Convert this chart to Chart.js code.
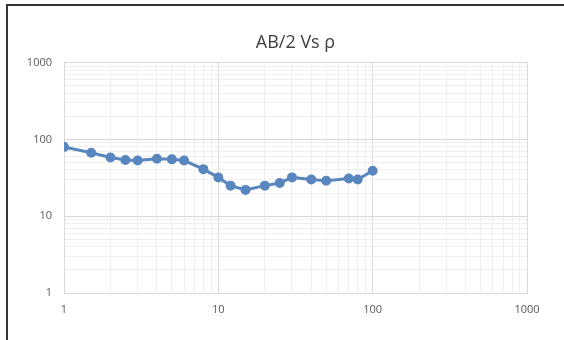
<!DOCTYPE html>
<html>
<head>
<meta charset="utf-8">
<script src="https://cdn.jsdelivr.net/npm/chart.js@4/dist/chart.umd.min.js"></script>
<style>
  html, body { margin: 0; padding: 0; background: #fff; }
  #wrap { position: absolute; left: 0; top: 0; width: 564px; height: 340px; }
  #frame { position: absolute; left: 6px; top: 4px; width: 560px; height: 340px;
           border-left: 2px solid #333; border-top: 2px solid #333; }
</style>
</head>
<body>
<div id="wrap"><canvas id="grafico" width="564" height="340"></canvas></div>
<div id="frame"></div>
<script>
// AB/2 (m) and apparent resistivity
const ab2 = [1, 1.5, 2, 2.5, 3, 4, 5, 6, 8, 10, 12, 15, 20, 25, 30, 40, 50, 70, 80, 100];
const rho = [80, 67, 58, 54, 53, 56, 55, 53, 41, 32, 25, 22, 25, 27, 32, 30, 29, 31, 30, 39];
const decadeLabels = [1, 10, 100, 1000];

// every 1..9 x 10^n tick, so minor grid lines show up
function logTicks(scale) {
  let t = [];
  for (let d = 1; d < 1000; d *= 10) {
    for (let m = 1; m < 10; m++) t.push({ value: m * d });
  }
  t.push({ value: 1000 });
  scale.ticks = t;
}

function isMajor(v) {
  return decadeLabels.indexOf(v) >= 0;
}

function gridColor(ctx) {
  if (!ctx.tick) return '#e6e6e6';
  return isMajor(ctx.tick.value) ? '#d9d9d9' : '#efefef';
}

// center the title over the plot area, like Excel does
const centerTitle = {
  id: 'centerTitle',
  afterLayout(chart) {
    if (chart.titleBlock) {
      chart.titleBlock.left = chart.chartArea.left;
      chart.titleBlock.right = chart.chartArea.right;
    }
  }
};

let ctx = document.getElementById('grafico').getContext('2d');
new Chart(ctx, {
  type: 'line',
  data: {
    datasets: [{
      label: 'rho',
      data: ab2.map((x, i) => ({ x: x, y: rho[i] })),
      borderColor: '#5a86bf',
      backgroundColor: '#5a86bf',
      borderWidth: 3,
      pointRadius: 3.5,
      pointHoverRadius: 3.5,
      fill: false,
      tension: 0
    }]
  },
  plugins: [centerTitle],
  options: {
    responsive: false,
    animation: false,
    layout: { padding: { left: 0, right: 37, top: 32, bottom: 0 } },
    plugins: {
      legend: { display: false },
      tooltip: { enabled: false },
      title: {
        display: true,
        text: 'AB/2 Vs \u03c1',
        color: '#404040',
        font: { family: 'Open Sans', size: 18, weight: 'normal', lineHeight: 1.2 },
        padding: { top: 0, bottom: 9 }
      }
    },
    scales: {
      x: {
        type: 'logarithmic',
        min: 1,
        max: 1000,
        afterBuildTicks: logTicks,
        afterFit: s => { s.height = 47; },
        grid: { color: gridColor, drawTicks: false },
        border: { color: '#d9d9d9' },
        ticks: {
          autoSkip: false,
          maxRotation: 0,
          padding: 10,
          color: '#595959',
          font: { family: 'Open Sans', size: 11 },
          callback: v => isMajor(v) ? String(v) : ''
        }
      },
      y: {
        type: 'logarithmic',
        min: 1,
        max: 1000,
        afterBuildTicks: logTicks,
        afterFit: s => { s.width = 64; },
        grid: { color: gridColor, drawTicks: false },
        border: { color: '#d9d9d9' },
        ticks: {
          autoSkip: false,
          padding: 12,
          color: '#595959',
          font: { family: 'Open Sans', size: 11 },
          callback: v => isMajor(v) ? String(v) : ''
        }
      }
    }
  }
});
</script>
</body>
</html>
